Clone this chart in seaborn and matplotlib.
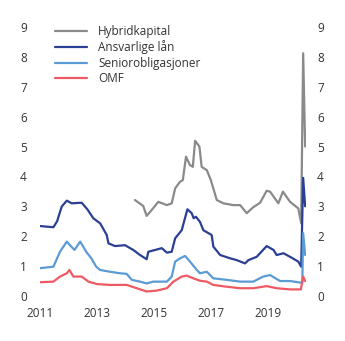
import matplotlib
matplotlib.use("Agg")
import matplotlib.pyplot as plt
import seaborn as sns
import pandas as pd

# ---- data (decimal years, percentage points) ----
hyb_x = [2014.33, 2014.62, 2014.74, 2014.92, 2015.15, 2015.45, 2015.62, 2015.74, 2015.91, 2016.01,
         2016.12, 2016.26, 2016.36, 2016.44, 2016.59, 2016.67, 2016.85, 2016.99, 2017.20, 2017.43,
         2017.78, 2018.02, 2018.25, 2018.48, 2018.72, 2018.95, 2019.07, 2019.36, 2019.52, 2019.77,
         2020.06, 2020.16, 2020.23, 2020.30]
hyb_y = [3.21, 3.01, 2.68, 2.88, 3.15, 3.04, 3.10, 3.60, 3.82, 3.88,
         4.66, 4.38, 4.32, 5.19, 5.00, 4.32, 4.21, 3.88, 3.21, 3.10,
         3.04, 3.04, 2.77, 2.97, 3.12, 3.52, 3.49, 3.10, 3.49, 3.15,
         2.93, 2.43, 8.12, 5.00]

ans_x = [2011.00, 2011.47, 2011.60, 2011.76, 2011.94, 2012.11, 2012.46, 2012.66, 2012.87, 2013.11,
         2013.34, 2013.40, 2013.63, 2013.98, 2014.27, 2014.51, 2014.74, 2014.80, 2015.04, 2015.27,
         2015.45, 2015.62, 2015.74, 2015.97, 2016.17, 2016.32, 2016.39, 2016.47, 2016.61, 2016.73,
         2017.02, 2017.08, 2017.32, 2017.67, 2017.90, 2018.19, 2018.31, 2018.60, 2018.95, 2019.19,
         2019.30, 2019.54, 2019.77, 2020.06, 2020.16, 2020.23, 2020.30]
ans_y = [2.34, 2.30, 2.50, 2.99, 3.19, 3.10, 3.12, 2.90, 2.60, 2.43,
         2.04, 1.76, 1.67, 1.70, 1.54, 1.37, 1.23, 1.48, 1.54, 1.60,
         1.45, 1.48, 1.93, 2.20, 2.90, 2.77, 2.60, 2.65, 2.48, 2.20,
         2.04, 1.65, 1.37, 1.26, 1.20, 1.09, 1.20, 1.31, 1.67, 1.54,
         1.37, 1.43, 1.31, 1.15, 0.98, 3.95, 3.00]

sen_x = [2011.00, 2011.47, 2011.70, 2011.94, 2012.04, 2012.21, 2012.41, 2012.62, 2012.80, 2012.97,
         2013.11, 2013.46, 2013.81, 2014.04, 2014.22, 2014.51, 2014.74, 2014.97, 2015.45, 2015.62,
         2015.74, 2015.91, 2016.09, 2016.26, 2016.50, 2016.61, 2016.85, 2017.08, 2017.55, 2018.02,
         2018.48, 2018.83, 2019.07, 2019.42, 2019.77, 2020.12, 2020.20, 2020.23, 2020.30]
sen_y = [0.93, 0.98, 1.48, 1.82, 1.71, 1.54, 1.82, 1.48, 1.26, 0.98,
         0.87, 0.81, 0.76, 0.74, 0.54, 0.48, 0.42, 0.48, 0.48, 0.65,
         1.15, 1.26, 1.34, 1.15, 0.87, 0.76, 0.81, 0.59, 0.54, 0.48,
         0.48, 0.65, 0.70, 0.50, 0.50, 0.45, 0.45, 2.10, 1.37]

omf_x = [2011.00, 2011.47, 2011.70, 2011.94, 2012.03, 2012.17, 2012.46, 2012.70, 2012.99, 2013.46,
         2014.04, 2014.39, 2014.74, 2015.09, 2015.45, 2015.68, 2015.97, 2016.15, 2016.38, 2016.61,
         2016.85, 2017.08, 2017.55, 2018.02, 2018.48, 2018.95, 2019.30, 2019.77, 2020.15, 2020.23,
         2020.30]
omf_y = [0.46, 0.48, 0.65, 0.76, 0.87, 0.65, 0.65, 0.48, 0.40, 0.37,
         0.37, 0.26, 0.15, 0.18, 0.26, 0.48, 0.65, 0.68, 0.59, 0.51,
         0.48, 0.37, 0.31, 0.26, 0.26, 0.33, 0.26, 0.22, 0.22, 0.65,
         0.50]

series_names = ["Hybridkapital", "Ansvarlige lån", "Seniorobligasjoner", "OMF"]
colors = ["#8a8a8a", "#2b3f94", "#5b9bd5", "#ee5a63"]
x_ticks = [2011, 2013, 2015, 2017, 2019]
y_ticks = list(range(0, 10))

frames = []
for name, xs, ys in zip(series_names, [hyb_x, ans_x, sen_x, omf_x], [hyb_y, ans_y, sen_y, omf_y]):
    frames.append(pd.DataFrame({"year": xs, "value": ys, "serie": name}))
df = pd.concat(frames, ignore_index=True)

sns.set_theme(style="white")
plt.rcParams["font.family"] = ["Open Sans", "DejaVu Sans"]

fig = plt.figure(figsize=(3.45, 3.41), dpi=100)
ax = fig.add_axes([0.116, 0.132, 0.771, 0.789])

sns.lineplot(data=df, x="year", y="value", hue="serie", hue_order=series_names,
             palette=colors, estimator=None, sort=False, linewidth=1.6, ax=ax)

ax.set_xlim(2011, 2020.33)
ax.set_ylim(0, 9)
ax.set_xticks(x_ticks)
ax.set_xticklabels([str(t) for t in x_ticks])
ax.set_yticks(y_ticks)
ax.set_xlabel("")
ax.set_ylabel("")
for s in ax.spines.values():
    s.set_visible(False)
ax.tick_params(axis="both", length=0, labelsize=8.5, colors="#333333")
ax.tick_params(axis="y", pad=9.5)
ax.tick_params(axis="x", pad=8)
ax.grid(False)

ax2 = ax.twinx()
ax2.set_ylim(0, 9)
ax2.set_yticks(y_ticks)
for s in ax2.spines.values():
    s.set_visible(False)
ax2.tick_params(axis="y", length=0, labelsize=8.5, colors="#333333", pad=8)
ax2.grid(False)

leg = ax.legend(loc="upper left", bbox_to_anchor=(0.04, 1.026), frameon=False,
                fontsize=8.5, handlelength=2.7, handletextpad=0.9, labelspacing=0.22,
                borderaxespad=0)
for t in leg.get_texts():
    t.set_color("#333333")

fig.savefig("out.png", dpi=100)
